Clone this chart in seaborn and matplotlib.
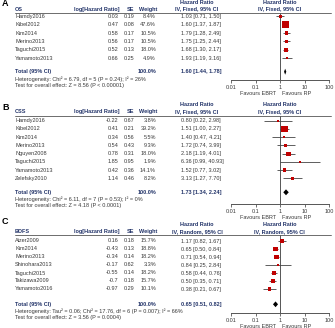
import numpy as np
import pandas as pd
import seaborn as sns
import matplotlib.pyplot as plt
from matplotlib.ticker import NullLocator
from matplotlib.transforms import blended_transform_factory

# --- data ---
os_names = ["Hamdy2016", "Kibel2012", "Kim2014", "Merino2013", "Taguchi2015", "Yamamoto2013"]
os_loghr = ["0.03", "0.47", "0.58", "0.56", "0.52", "0.66"]
os_se = ["0.19", "0.08", "0.17", "0.17", "0.13", "0.25"]
os_weight = [8.4, 47.6, 10.5, 10.5, 18.0, 4.9]
os_hr = [1.03, 1.60, 1.79, 1.75, 1.68, 1.93]
os_lo = [0.71, 1.37, 1.28, 1.25, 1.30, 1.19]
os_hi = [1.50, 1.87, 2.49, 2.44, 2.17, 3.16]
os_total = [1.60, 1.44, 1.78]
os_het = "Heterogeneity: Chi\u00b2 = 6.79, df = 5 (P = 0.24); I\u00b2 = 26%"
os_test = "Test for overall effect: Z = 8.56 (P < 0.00001)"

css_names = ["Hamdy2016", "Kibel2012", "Kim2014", "Merino2013", "Nguyen2008",
             "Taguchi2015", "Yamamoto2013", "Zelefsky2010"]
css_loghr = ["-0.22", "0.41", "0.34", "0.54", "0.78", "1.85", "0.42", "1.14"]
css_se = ["0.67", "0.21", "0.56", "0.43", "0.31", "0.95", "0.36", "0.46"]
css_weight = [3.8, 39.2, 5.5, 9.3, 18.0, 1.9, 14.1, 8.2]
css_hr = [0.80, 1.51, 1.40, 1.72, 2.18, 6.36, 1.52, 3.13]
css_lo = [0.22, 1.00, 0.47, 0.74, 1.19, 0.99, 0.77, 1.27]
css_hi = [2.98, 2.27, 4.21, 3.99, 4.01, 40.93, 3.02, 7.70]
css_total = [1.73, 1.34, 2.24]
css_het = "Heterogeneity: Chi\u00b2 = 6.11, df = 7 (P = 0.53); I\u00b2 = 0%"
css_test = "Test for overall effect: Z = 4.18 (P < 0.0001)"

bdfs_names = ["Aizer2009", "Kim2014", "Merino2013", "Shinohara2013", "Taguchi2015",
              "Takizawa2009", "Yamamoto2016"]
bdfs_loghr = ["0.16", "-0.43", "-0.34", "-0.17", "-0.55", "-0.7", "-0.97"]
bdfs_se = ["0.18", "0.13", "0.14", "0.62", "0.14", "0.18", "0.29"]
bdfs_weight = [15.7, 18.8, 18.2, 3.3, 18.2, 15.7, 10.1]
bdfs_hr = [1.17, 0.65, 0.71, 0.84, 0.58, 0.50, 0.38]
bdfs_lo = [0.82, 0.50, 0.54, 0.25, 0.44, 0.35, 0.21]
bdfs_hi = [1.67, 0.84, 0.94, 2.84, 0.76, 0.71, 0.67]
bdfs_total = [0.65, 0.51, 0.82]
bdfs_het = "Heterogeneity: Tau\u00b2 = 0.06; Chi\u00b2 = 17.76, df = 6 (P = 0.007); I\u00b2 = 66%"
bdfs_test = "Test for overall effect: Z = 3.56 (P = 0.0004)"

ticks = [0.01, 0.1, 1, 10, 100]
tick_labels = ["0.01", "0.1", "1", "10", "100"]

sns.set_style("white")
plt.rcParams['font.family'] = ['Liberation Sans', 'DejaVu Sans']

W, H = 335, 328
FS = 4.0
TXT = "#3a3a3a"
HEAD = "#24356a"
RED = "#c00000"

fig = plt.figure(figsize=(W / 100, H / 100), dpi=100)
bg = fig.add_axes([0, 0, 1, 1])
bg.set_xlim(0, W)
bg.set_ylim(H, 0)
bg.axis('off')

X0, X1 = 231, 329.3  # pixel span of 0.01 .. 100


def panel(letter, outcome, model, names, loghr, se, weight, hr, lo, hi, total, het, test, lay):
    line_y, row0, pitch, tot_y, axis_y, het_y, test_y, letter_y = lay
    ax = fig.add_axes([X0 / W, 1 - axis_y / H, (X1 - X0) / W, (axis_y - line_y) / H])
    ax.patch.set_alpha(0)
    rows = np.arange(len(names))
    tot_row = (tot_y - row0) / pitch

    df = pd.DataFrame({"hr": hr, "row": rows, "w": weight})
    ax.axvline(1, color="#555555", lw=0.7, zorder=1)
    ax.hlines(rows, lo, hi, color="#444444", lw=0.6, zorder=2)
    sns.scatterplot(data=df, x="hr", y="row", size="w",
                    sizes=(0.5 * min(weight), 0.5 * max(weight)),
                    size_norm=(min(weight), max(weight)),
                    marker="s", color=RED, linewidth=0, legend=False, ax=ax, zorder=3)
    thr, tlo, thi = total
    ax.fill([tlo, thr, thi, thr], [tot_row, tot_row - 0.36, tot_row, tot_row + 0.36],
            color="black", lw=0, zorder=3)

    ax.set_xscale("log")
    ax.set_xlim(0.01, 100)
    ax.set_ylim((axis_y - row0) / pitch, (line_y - row0) / pitch)
    ax.set_xticks(ticks)
    ax.set_xticklabels(tick_labels)
    ax.xaxis.set_minor_locator(NullLocator())
    ax.set_yticks([])
    ax.set_xlabel("")
    ax.set_ylabel("")
    for s in ["left", "top", "right"]:
        ax.spines[s].set_visible(False)
    ax.spines["bottom"].set_color("#555555")
    ax.spines["bottom"].set_linewidth(0.7)
    ax.tick_params(axis="x", length=2, width=0.6, pad=1.2, labelsize=FS,
                   colors="#555555", labelcolor=TXT, direction="out", bottom=True)

    tr = blended_transform_factory(bg.transData, ax.transData)
    kw = dict(fontsize=FS, color=TXT, va="center")
    for i, n in enumerate(names):
        bg.text(15, i, n, transform=tr, ha="left", **kw)
        bg.text(118.5, i, loghr[i], transform=tr, ha="right", **kw)
        bg.text(134.5, i, se[i], transform=tr, ha="right", **kw)
        bg.text(156, i, f"{weight[i]:.1f}%", transform=tr, ha="right", **kw)
        bg.text(181, i, f"{hr[i]:.2f} [{lo[i]:.2f}, {hi[i]:.2f}]", transform=tr, ha="left", **kw)
    bkw = dict(fontsize=FS, color=HEAD, va="center", fontweight="bold")
    bg.text(15, tot_row, "Total (95% CI)", transform=tr, ha="left", **bkw)
    bg.text(156, tot_row, "100.0%", transform=tr, ha="right", **bkw)
    bg.text(181, tot_row, f"{thr:.2f} [{tlo:.2f}, {thi:.2f}]", transform=tr, ha="left", **bkw)
    bg.text(15, het_y, het, ha="left", **kw)
    bg.text(15, test_y, test, ha="left", **kw)

    # headers
    hy = line_y - 3.6
    bg.text(2, letter_y, letter, fontsize=6.5, fontweight="bold", color="black", va="center")
    bg.text(15, hy, outcome, ha="left", **bkw)
    bg.text(119, hy, "log[Hazard Ratio]", ha="right", **bkw)
    bg.text(134.5, hy, "SE", ha="right", **bkw)
    bg.text(157, hy, "Weight", ha="right", **bkw)
    bg.text(197, hy - 7, "Hazard Ratio", ha="center", **bkw)
    bg.text(197, hy, model, ha="center", **bkw)
    bg.text(279.5, hy - 7, "Hazard Ratio", ha="center", **bkw)
    bg.text(279.5, hy, model, ha="center", **bkw)
    bg.plot([15, 331], [line_y, line_y], color="#555555", lw=0.6)

    bg.text(276, axis_y + 13.5, "Favours EBRT", ha="right", **kw)
    bg.text(282, axis_y + 13.5, "Favours RP", ha="left", **kw)


panel("A", "OS", "IV, Fixed, 95% CI", os_names, os_loghr, os_se, os_weight,
      os_hr, os_lo, os_hi, os_total, os_het, os_test,
      (12.7, 16.3, 8.35, 71.7, 80.3, 79.0, 86.0, 4.0))
panel("B", "CSS", "IV, Fixed, 95% CI", css_names, css_loghr, css_se, css_weight,
      css_hr, css_lo, css_hi, css_total, css_het, css_test,
      (115.5, 120.7, 8.23, 192.3, 204.3, 199.3, 206.0, 107.5))
panel("C", "BDFS", "IV, Random, 95% CI", bdfs_names, bdfs_loghr, bdfs_se, bdfs_weight,
      bdfs_hr, bdfs_lo, bdfs_hi, bdfs_total, bdfs_het, bdfs_test,
      (235.0, 241.0, 8.0, 304.3, 313.3, 311.0, 318.0, 222.0))

fig.savefig("out.png", dpi=100)
